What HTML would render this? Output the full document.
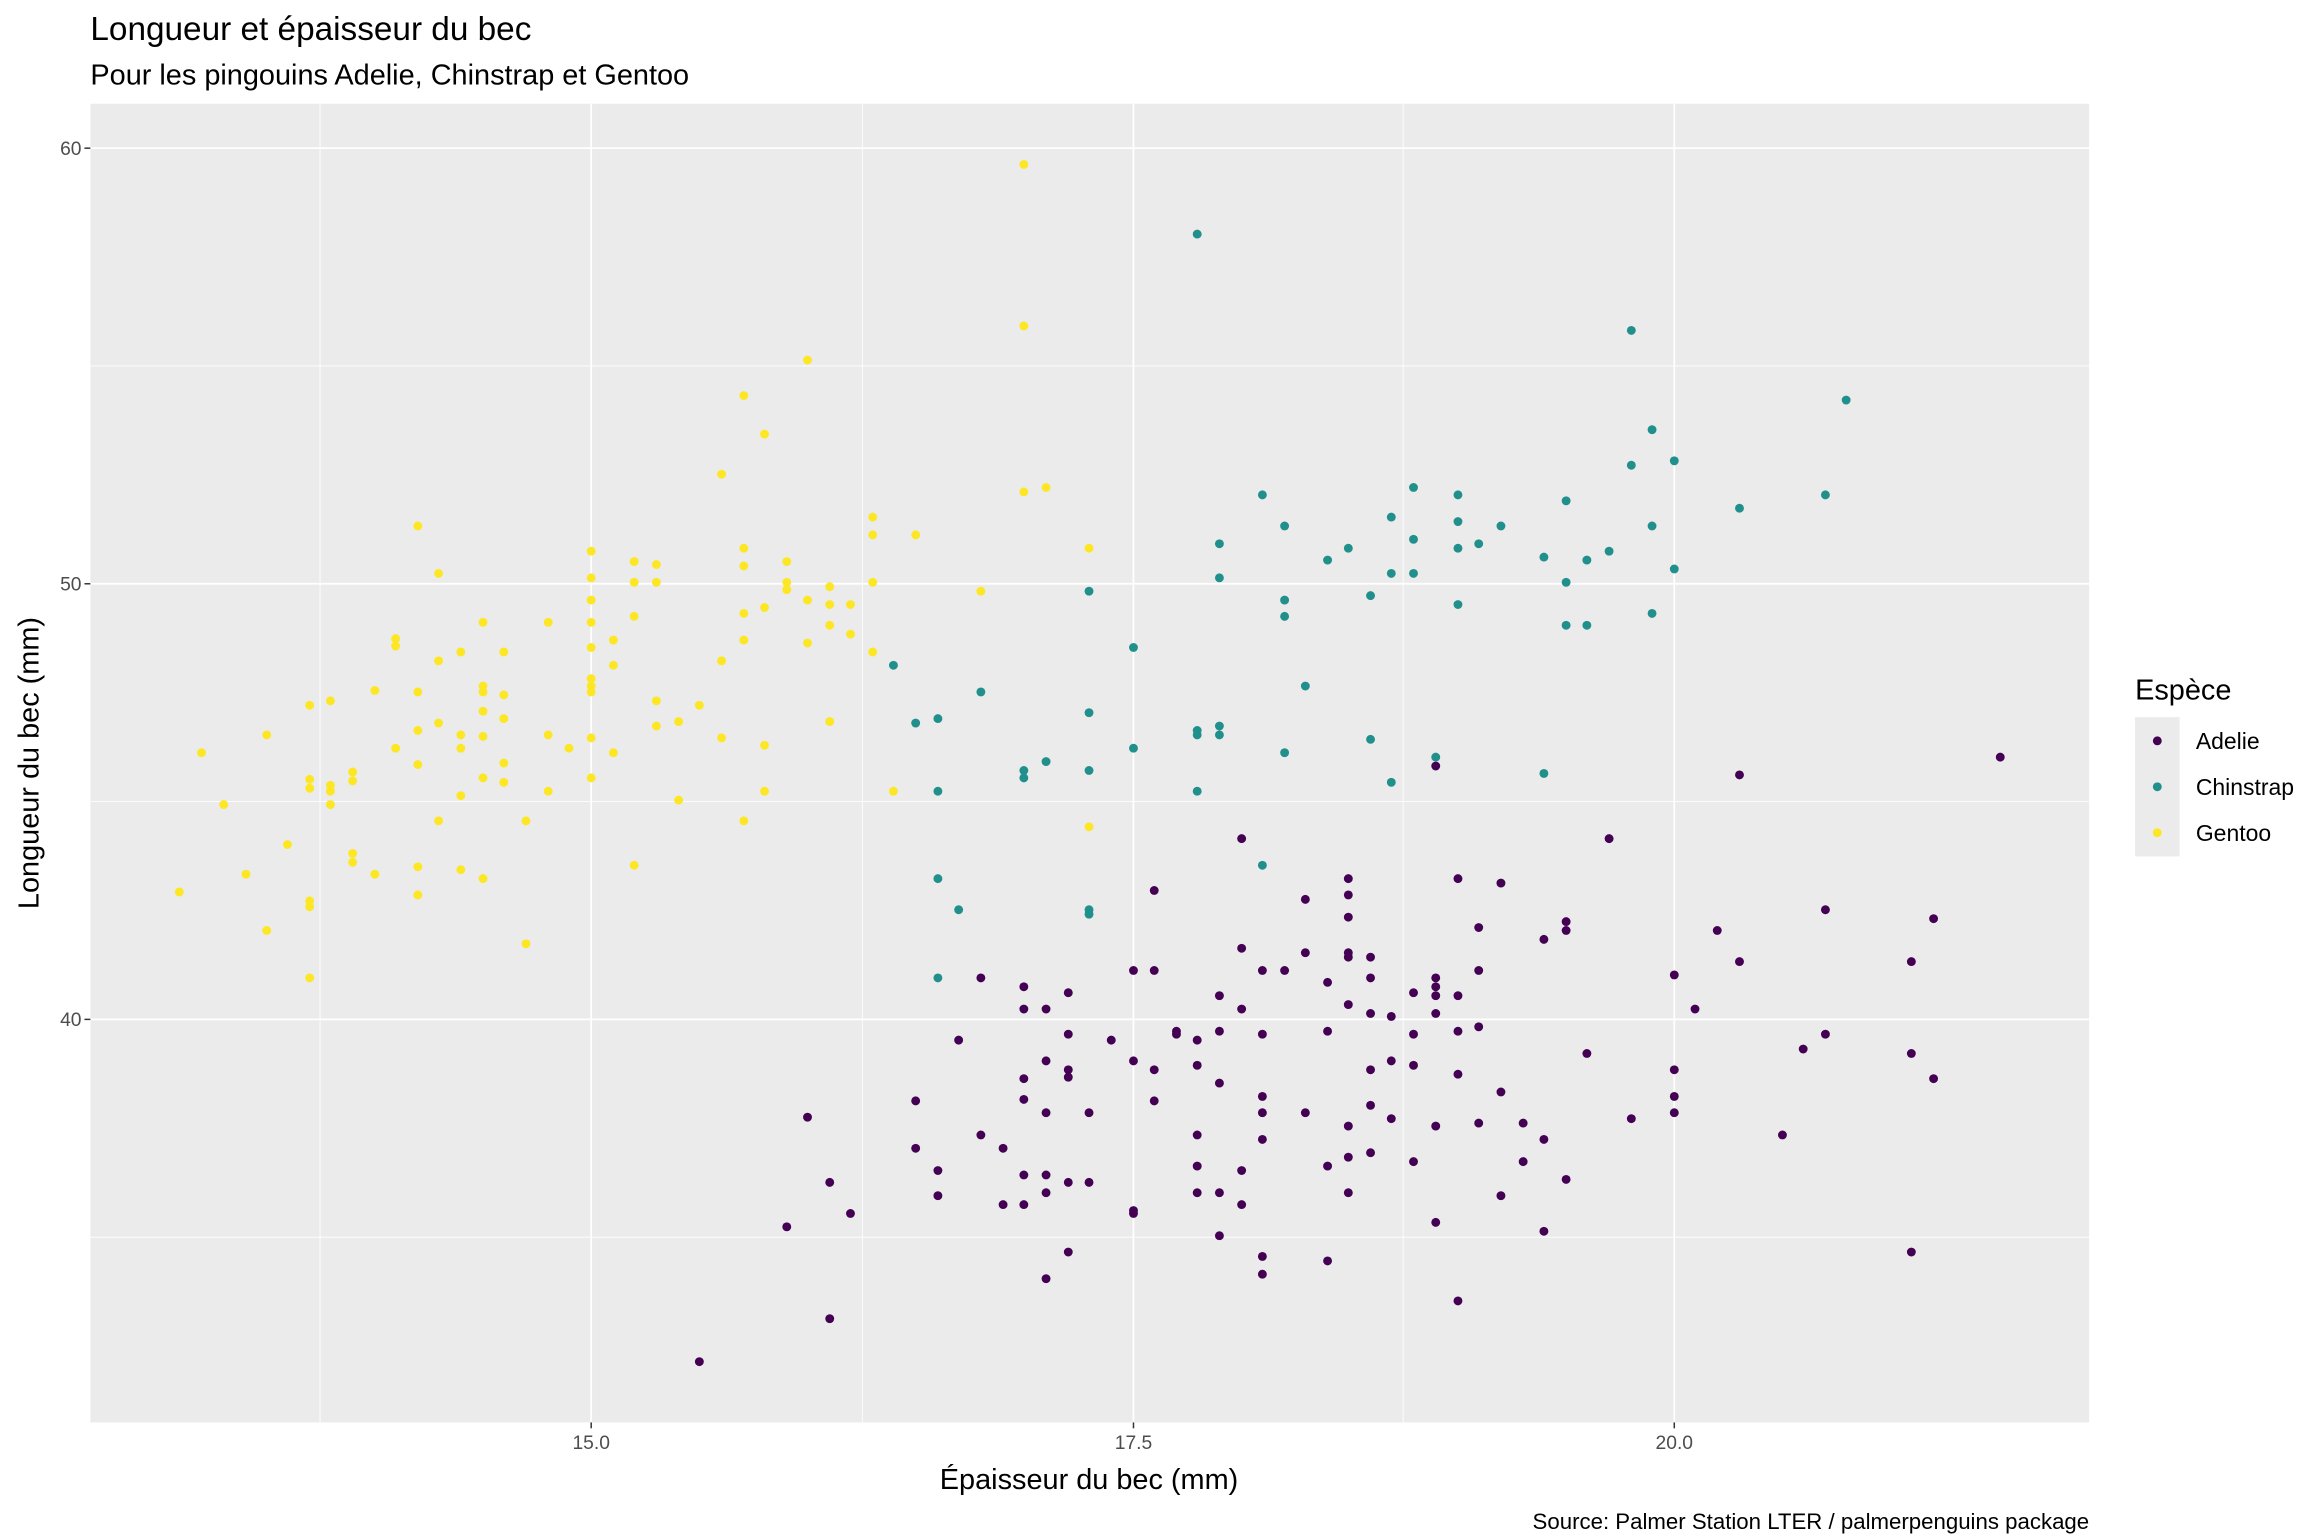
<!DOCTYPE html>
<html><head><meta charset="utf-8"><style>html,body{margin:0;padding:0;background:#fff}svg{display:block}</style></head>
<body>
<svg id="s" width="2304" height="1536" viewBox="0 0 1555 1036.67" xmlns="http://www.w3.org/2000/svg" font-family="Liberation Sans, sans-serif">
<rect x="0" y="0" width="1555" height="1037" fill="#fff"/>
<rect x="61" y="70" width="1349" height="890" fill="#EBEBEB"/>
<g stroke="#fff" stroke-width="0.6">
<line x1="216" y1="70" x2="216" y2="960"/><line x1="582" y1="70" x2="582" y2="960"/><line x1="947" y1="70" x2="947" y2="960"/>
<line x1="61" y1="247" x2="1410" y2="247"/><line x1="61" y1="541" x2="1410" y2="541"/><line x1="61" y1="835" x2="1410" y2="835"/>
</g>
<g stroke="#fff" stroke-width="1.2">
<line x1="399" y1="70" x2="399" y2="960"/><line x1="765" y1="70" x2="765" y2="960"/><line x1="1130" y1="70" x2="1130" y2="960"/>
<line x1="61" y1="100" x2="1410" y2="100"/><line x1="61" y1="394" x2="1410" y2="394"/><line x1="61" y1="688" x2="1410" y2="688"/>
</g>
<g stroke="#333" stroke-width="1">
<line x1="57" y1="100" x2="61" y2="100"/><line x1="57" y1="394" x2="61" y2="394"/><line x1="57" y1="688" x2="61" y2="688"/>
<line x1="399" y1="960" x2="399" y2="964"/><line x1="765" y1="960" x2="765" y2="964"/><line x1="1130" y1="960" x2="1130" y2="964"/>
</g>
<g fill="#4D4D4D" font-size="13">
<text x="55" y="104.5" text-anchor="end">60</text><text x="55" y="398.5" text-anchor="end">50</text><text x="55" y="692.5" text-anchor="end">40</text>
<text x="399" y="978" text-anchor="middle">15.0</text><text x="765" y="978" text-anchor="middle">17.5</text><text x="1130" y="978" text-anchor="middle">20.0</text>
</g>
<text x="61" y="27" font-size="22.5" fill="#000">Longueur et épaisseur du bec</text>
<text x="61" y="57" font-size="19.5" fill="#000">Pour les pingouins Adelie, Chinstrap et Gentoo</text>
<text x="735" y="1005" font-size="19.5" text-anchor="middle" fill="#000">Épaisseur du bec (mm)</text>
<text transform="translate(26,515) rotate(-90)" font-size="19.5" text-anchor="middle" fill="#000">Longueur du bec (mm)</text>
<text x="1410" y="1032" font-size="15" text-anchor="end" fill="#000">Source: Palmer Station LTER / palmerpenguins package</text>
<text x="1441" y="472" font-size="19.5" fill="#000">Espèce</text>
<rect x="1441" y="484" width="30" height="94" fill="#EBEBEB"/>
<circle cx="1456" cy="500" r="3" fill="#440154"/><circle cx="1456" cy="531" r="3" fill="#21908C"/><circle cx="1456" cy="562" r="3" fill="#FDE725"/>
<g font-size="15.5" fill="#000"><text x="1482" y="505.5">Adelie</text><text x="1482" y="536.5">Chinstrap</text><text x="1482" y="567.5">Gentoo</text></g>
<g id="pts"></g>
</svg>
<script>
(function(){
var G=[121,602,136,508,151,543,166,590,180,496,180,628,194,570,209,476,209,526,209,532,209,608,209,612,209,660,223,473,223,530,223,534,223,543,238,521,238,527,238,576,238,582,253,466,253,590,267,431,267,436,267,505,282,355,282,467,282,493,282,516,282,585,282,604,296,387,296,446,296,488,296,554,311,440,311,496,311,505,311,537,311,587,326,420,326,463,326,467,326,480,326,497,326,525,326,593,340,440,340,469,340,485,340,515,340,528,355,554,355,637,370,420,370,496,370,534,384,505,399,372,399,390,399,405,399,420,399,437,399,458,399,463,399,467,399,498,399,525,414,432,414,449,414,508,428,379,428,393,428,416,428,584,443,381,443,393,443,473,443,490,458,487,458,540,472,476,487,320,487,446,487,498,502,267,502,370,502,382,502,414,502,432,502,554,516,293,516,410,516,503,516,534,531,379,531,393,531,398,545,243,545,405,545,434,560,396,560,408,560,422,560,487,574,408,574,428,589,349,589,361,589,393,589,440,603,534,618,361,662,399,691,111,691,220,691,332,706,329,735,370,735,558];
var C=[603,449,618,488,633,485,633,534,633,593,633,660,647,614,662,467,691,520,691,525,706,514,735,399,735,481,735,520,735,614,735,617,765,437,765,505,808,158,808,493,808,496,808,534,823,367,823,390,823,490,823,496,852,334,852,584,867,355,867,405,867,416,867,508,881,463,896,378,910,370,925,402,925,499,939,349,939,387,939,528,954,329,954,364,954,387,969,511,984,334,984,352,984,370,984,408,998,367,1013,355,1042,376,1042,522,1057,338,1057,393,1057,422,1071,378,1071,422,1086,372,1101,223,1101,314,1115,290,1115,355,1115,414,1130,311,1130,384,1174,343,1232,334,1246,270];
var A=[472,919,531,828,545,754,560,798,560,890,574,819,618,743,618,775,633,790,633,807,647,702,662,660,662,766,677,775,677,813,691,666,691,681,691,728,691,742,691,793,691,813,706,681,706,716,706,751,706,793,706,805,706,863,721,670,721,698,721,722,721,727,721,798,721,845,735,751,735,798,750,702,765,655,765,716,765,817,765,819,779,601,779,655,779,722,779,743,794,696,794,698,808,702,808,719,808,766,808,787,808,805,823,672,823,696,823,731,823,805,823,834,838,566,838,640,838,681,838,790,838,813,852,655,852,698,852,740,852,751,852,769,852,848,852,860,867,655,881,607,881,643,881,751,896,663,896,696,896,787,896,851,910,593,910,604,910,619,910,643,910,646,910,678,910,760,910,781,910,805,925,646,925,660,925,684,925,722,925,746,925,778,939,686,939,716,939,755,954,670,954,698,954,719,954,784,969,517,969,660,969,666,969,672,969,684,969,760,969,825,984,593,984,672,984,696,984,725,984,878,998,626,998,655,998,693,998,758,1013,596,1013,737,1013,807,1028,758,1028,784,1042,634,1042,769,1042,831,1057,622,1057,628,1057,796,1071,711,1086,566,1101,755,1130,658,1130,722,1130,740,1130,751,1144,681,1159,628,1174,523,1174,649,1203,766,1217,708,1232,614,1232,698,1290,649,1290,711,1290,845,1305,620,1305,728,1350,511];
var NS="http://www.w3.org/2000/svg";
var g=document.getElementById('pts');
var sets=[[A,'#440154'],[C,'#21908C'],[G,'#FDE725']];
for(var k=0;k<sets.length;k++){var a=sets[k][0];for(var i=0;i<a.length;i+=2){var c=document.createElementNS(NS,'circle');c.setAttribute('cx',a[i]);c.setAttribute('cy',a[i+1]);c.setAttribute('r','3');c.setAttribute('fill',sets[k][1]);g.appendChild(c);}}
})();
</script>
</body></html>
